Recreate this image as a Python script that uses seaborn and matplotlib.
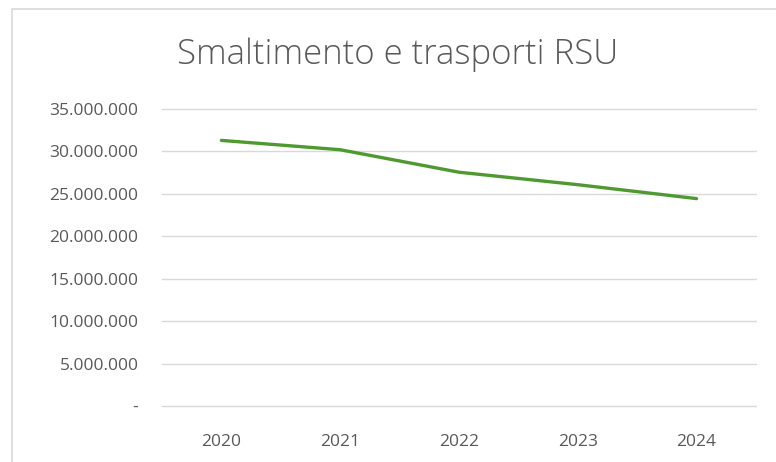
import matplotlib
matplotlib.use("Agg")
import matplotlib.pyplot as plt
import matplotlib.ticker as mticker
from matplotlib.patches import Rectangle
import pandas as pd
import seaborn as sns

# Data
years = ["2020", "2021", "2022", "2023", "2024"]
costs = [31300000, 30200000, 27550000, 26080000, 24440000]
y_ticks = [0, 5000000, 10000000, 15000000, 20000000, 25000000, 30000000, 35000000]

TEXT = "#595959"
GRID = "#d9d9d9"
LINE = "#4E9A30"

sns.set_theme(style="white")
plt.rcParams["font.family"] = ["Open Sans", "DejaVu Sans"]

df = pd.DataFrame({"anno": years, "costo": costs})

fig = plt.figure(figsize=(7.76, 4.62), dpi=100)
ax = fig.add_axes([162 / 776, 1 - 406 / 462, 594 / 776, 297 / 462])

sns.lineplot(data=df, x="anno", y="costo", ax=ax, color=LINE, linewidth=2.4,
             solid_capstyle="round", solid_joinstyle="round", sort=False)

ax.set_xlim(-0.5, 4.5)
ax.set_ylim(0, 35000000)
ax.set_yticks(y_ticks)


def fmt(v, _pos):
    if v == 0:
        return "-"
    return f"{int(v):,}".replace(",", ".")


ax.yaxis.set_major_formatter(mticker.FuncFormatter(fmt))
ax.grid(axis="y", color=GRID, linewidth=1.0)
for gl in ax.get_ygridlines():
    gl.set_clip_on(False)
ax.set_axisbelow(True)
for s in ax.spines.values():
    s.set_visible(False)
ax.tick_params(axis="both", length=0, labelsize=12.5, colors=TEXT)
ax.tick_params(axis="y", pad=17)
ax.tick_params(axis="x", pad=20)
ax.set_xlabel("")
ax.set_ylabel("")

fig.text(398 / 776, 1 - 55 / 462, "Smaltimento e trasporti RSU", ha="center",
         va="center", fontsize=25, color=TEXT, fontweight="light")

# chart frame (left and top edges visible)
fig.patches.append(Rectangle((12 / 776, -0.1), 1.1, 1 - 9 / 462 + 0.1,
                             transform=fig.transFigure, fill=False,
                             edgecolor=GRID, linewidth=1.2))

fig.savefig("out.png", dpi=100)
